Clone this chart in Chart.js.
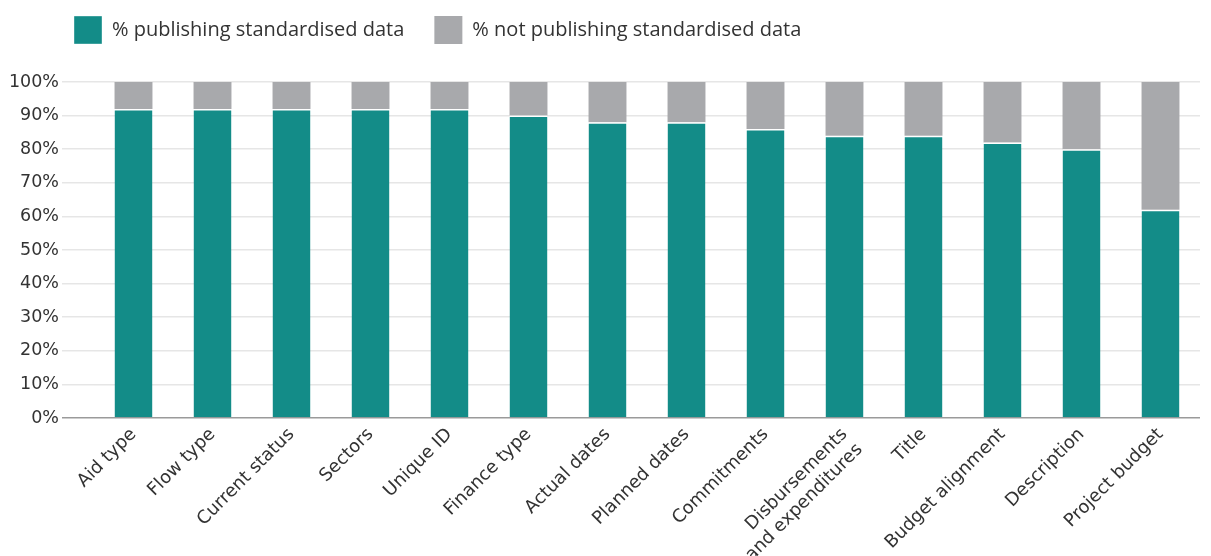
<!DOCTYPE html>
<html>
<head>
<meta charset="utf-8">
<script src="https://cdn.jsdelivr.net/npm/chart.js@4/dist/chart.umd.min.js"></script>
<style>
	html, body {
		margin: 0;
		padding: 0;
		background: #ffffff;
	}

	#wrap {
		width: 1211px;
		height: 556px;
	}
</style>
</head>
<body>
<div id="wrap">
	<canvas id="myChart" width="1211" height="556"></canvas>
</div>
<script>
	const categories = [
		'Aid type', 'Flow type', 'Current status', 'Sectors', 'Unique ID',
		'Finance type', 'Actual dates', 'Planned dates', 'Commitments',
		['Disbursements', 'and expenditures'], 'Title', 'Budget alignment',
		'Description', 'Project budget'
	];

	const publishing = [92, 92, 92, 92, 92, 90, 88, 88, 86, 84, 84, 82, 80, 62];
	const notPublishing = [8, 8, 8, 8, 8, 10, 12, 12, 14, 16, 16, 18, 20, 38];

	const yTicks = [0, 10, 20, 30, 40, 50, 60, 70, 80, 90, 100];

	const teal = '#138c88';
	const grey = '#a8a9ac';

	// legend: push it right and leave some room under it
	const legendSpacer = {
		id: 'legendSpacer',
		beforeInit(chart) {
			const fit = chart.legend.fit;
			chart.legend.fit = function () {
				fit.call(this);
				this.height += 28;
			};
		},
		afterLayout(chart) {
			chart.legend.left += 34;
		}
	};

	const data = {
		labels: categories,
		datasets: [{
			label: '% publishing standardised data',
			data: publishing,
			backgroundColor: teal,
			borderColor: '#ffffff',
			borderWidth: {top: 1.5, left: 0, right: 0, bottom: 0},
			borderSkipped: false,
			barPercentage: 0.48,
			categoryPercentage: 1
		}, {
			label: '% not publishing standardised data',
			data: notPublishing,
			backgroundColor: grey,
			borderWidth: 0,
			barPercentage: 0.48,
			categoryPercentage: 1
		}]
	};

	const config = {
		type: 'bar',
		data: data,
		plugins: [legendSpacer],
		options: {
			responsive: false,
			animation: false,
			layout: {
				padding: {left: 10, right: 11, top: -14, bottom: 0}
			},
			plugins: {
				legend: {
					position: 'top',
					align: 'start',
					labels: {
						boxWidth: 28,
						boxHeight: 28,
						padding: 30,
						color: '#333333',
						font: {family: 'Open Sans', size: 20}
					}
				},
				tooltip: {enabled: false}
			},
			scales: {
				x: {
					stacked: true,
					grid: {display: false, drawTicks: false},
					border: {display: false},
					ticks: {
						autoSkip: false,
						maxRotation: 45,
						minRotation: 45,
						padding: 6,
						color: '#333333',
						font: {family: 'DejaVu Sans', size: 18}
					},
					afterFit(axis) {
						axis.height = 138;
					}
				},
				y: {
					stacked: true,
					min: 0,
					max: 100,
					afterBuildTicks(axis) {
						axis.ticks = yTicks.map(v => ({value: v}));
					},
					grid: {
						color: ctx => ctx.tick && ctx.tick.value === 0 ? '#9a9a9a' : '#e6e6e6',
						tickColor: ctx => ctx.tick && ctx.tick.value === 0 ? '#9a9a9a' : '#e6e6e6',
						lineWidth: 1.5,
						tickLength: 32
					},
					border: {display: false},
					ticks: {
						padding: 3,
						color: '#333333',
						font: {family: 'DejaVu Sans', size: 17.5},
						callback: v => v + '%'
					},
					afterFit(axis) {
						axis.width = 84;
					}
				}
			}
		}
	};

	const myChart = new Chart(
		document.getElementById('myChart'),
		config
	);
</script>
</body>
</html>
